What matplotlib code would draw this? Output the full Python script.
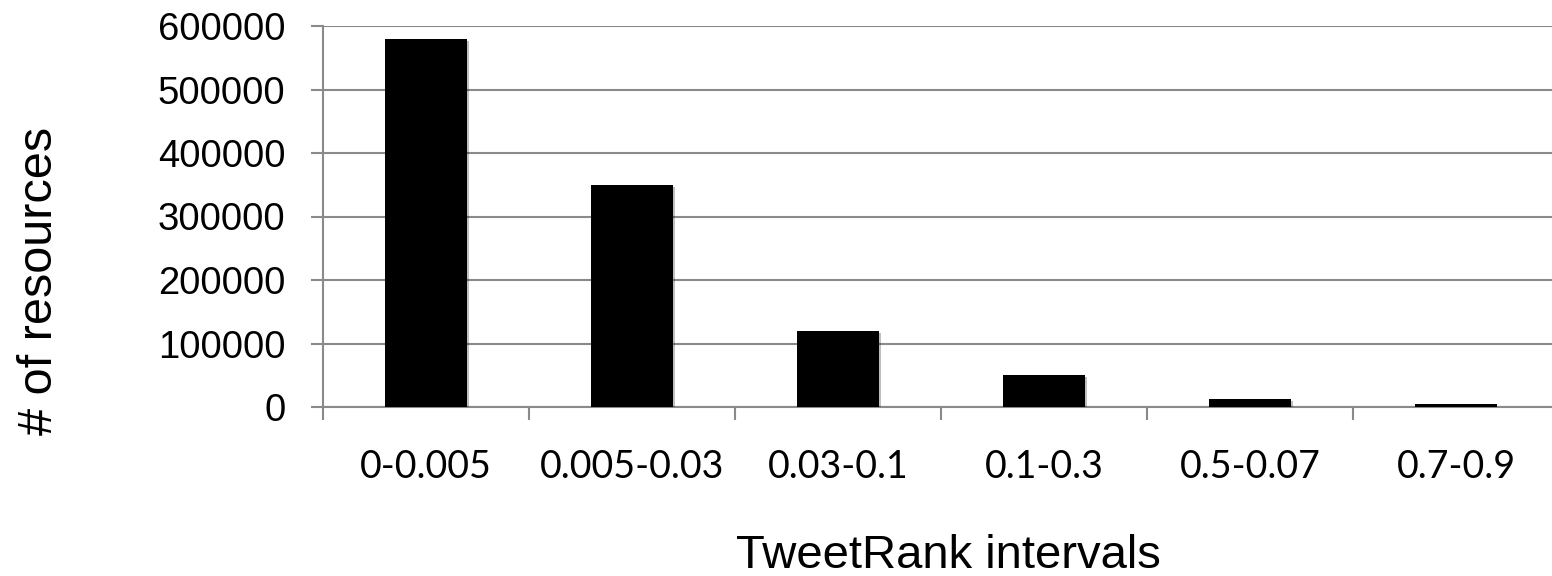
import matplotlib
matplotlib.use("Agg")
import matplotlib.pyplot as plt
import matplotlib.patheffects as pe
import numpy as np

categories = ["0-0.005", "0.005-0.03", "0.03-0.1", "0.1-0.3", "0.5-0.07", "0.7-0.9"]
values = [580000, 350000, 120000, 50000, 12000, 4000]
y_ticks = [0, 100000, 200000, 300000, 400000, 500000, 600000]

W, H = 1552, 576
fig = plt.figure(figsize=(W / 100, H / 100), dpi=100)
ax = fig.add_axes([323 / W, 1 - 407 / H, (1559 - 323) / W, (407 - 26) / H])

grid_c = "#8a8a8a"
x = np.arange(len(categories))
bars = ax.bar(x, values, width=0.4, color="black", zorder=3)
for b in bars:
    b.set_path_effects([pe.SimplePatchShadow(offset=(1.5, -1.5), alpha=0.25), pe.Normal()])

ax.set_xlim(-0.5, len(categories) - 0.5)
ax.set_ylim(0, 600000)
ax.set_yticks(y_ticks)
ax.set_yticklabels([str(v) for v in y_ticks], family="Liberation Sans", fontsize=27.5)
ax.yaxis.grid(True, color=grid_c, linewidth=1.5, zorder=0)
ax.set_axisbelow(True)

# category boundary ticks
ax.set_xticks(np.arange(-0.5, len(categories), 1.0))
ax.set_xticklabels([])
ax.set_xticks(x, minor=True)
ax.set_xticklabels(categories, minor=True, family="Lato", fontsize=27)
ax.tick_params(axis="x", which="major", direction="out", length=9, width=1.5, color=grid_c)
ax.tick_params(axis="x", which="minor", length=0, pad=30)
ax.tick_params(axis="y", direction="out", length=9, width=1.5, color=grid_c, pad=18)

for s in ["top", "right"]:
    ax.spines[s].set_visible(False)
for s in ["left", "bottom"]:
    ax.spines[s].set_color(grid_c)
    ax.spines[s].set_linewidth(1.5)

fig.text(40 / W, 1 - 281 / H, "# of resources", rotation=90, ha="center", va="center",
         family="Liberation Sans", fontsize=35)
fig.text(948 / W, 1 - 556 / H, "TweetRank intervals", ha="center", va="center",
         family="Liberation Sans", fontsize=34)

fig.savefig("out.png", dpi=100)
